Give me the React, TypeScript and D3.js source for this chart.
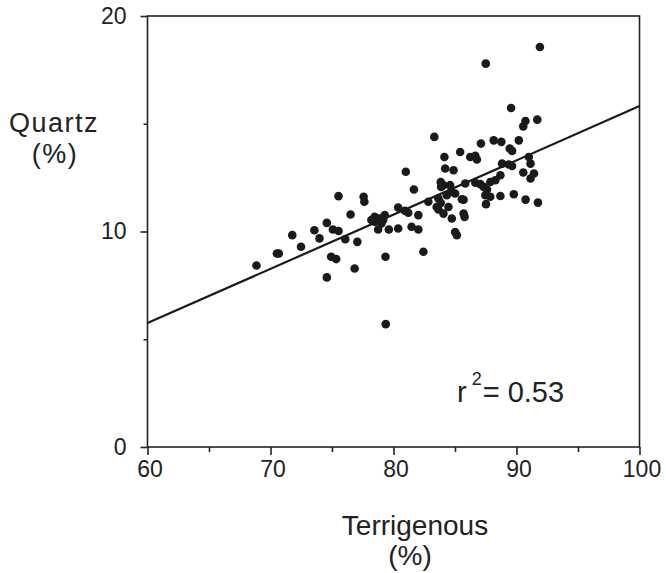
import React, { Component } from "react"
import * as d3 from "d3"

// Terrigenous (%) vs Quartz (%)
const terrigenous = [
  91.9, 87.5, 89.56, 91.69, 90.55, 90.73, 83.32, 90.19, 88.15, 88.77, 87.11, 89.45, 89.64, 85.42, 84.14,
  86.24, 86.65, 86.78, 91.0, 91.14, 88.83, 89.37, 89.64, 84.2, 84.88, 81.0, 90.55, 91.42, 91.14, 88.69,
  88.28, 87.87, 83.84, 84.06, 83.87, 85.83, 86.65, 87.06, 87.33, 87.6, 81.66, 84.6, 84.69, 85.01, 84.33,
  85.56, 85.7, 82.83, 83.65, 83.84, 75.53, 77.57, 77.63, 87.47, 87.87, 88.69, 89.78, 90.74, 91.74, 87.52,
  83.51, 83.65, 84.47, 80.38, 80.93, 81.2, 82.02, 76.51, 84.06, 84.74, 85.7, 85.78, 78.47, 78.88, 79.29,
  79.16, 78.47, 79.02, 78.2, 79.62, 78.75, 80.38, 81.47, 82.02, 74.58, 75.07, 75.53, 73.57, 73.98, 71.77,
  76.08, 85.01, 85.15, 77.06, 72.48, 70.52, 70.68, 82.43, 79.35, 74.93, 75.34, 68.86, 76.84, 74.58, 79.37,
]
const quartz = [
  18.56, 17.79, 15.73, 15.19, 14.88, 15.13, 14.39, 14.23, 14.23, 14.16, 14.08, 13.85, 13.74, 13.69, 13.46,
  13.46, 13.51, 13.34, 13.46, 13.15, 13.15, 13.11, 13.04, 12.92, 12.84, 12.77, 12.74, 12.69, 12.46, 12.61,
  12.38, 12.3, 12.3, 12.15, 12.07, 12.23, 12.26, 12.2, 12.07, 11.95, 11.95, 12.15, 11.84, 11.76, 11.68,
  11.5, 11.47, 11.38, 11.53, 11.33, 11.64, 11.61, 11.38, 11.68, 11.61, 11.65, 11.73, 11.48, 11.34, 11.27,
  11.14, 11.02, 11.14, 11.11, 10.96, 10.87, 10.76, 10.79, 10.83, 10.6, 10.83, 10.68, 10.68, 10.6, 10.76,
  10.53, 10.45, 10.37, 10.53, 10.09, 10.09, 10.14, 10.22, 10.09, 10.4, 10.09, 10.02, 10.06, 9.68, 9.83,
  9.64, 9.98, 9.83, 9.52, 9.29, 8.98, 8.98, 9.06, 8.83, 8.83, 8.72, 8.42, 8.28, 7.87, 5.7,
]

// regression line end points
const fitX = [60, 100]
const fitY = [5.75, 15.82]

const xMajor = [60, 70, 80, 90, 100]
const xMinor = [65, 75, 85, 95]
const yMajor = [0, 10, 20]
const yMinor = [5, 15]

const font = "'Liberation Sans', Arial, Helvetica, sans-serif"

class App extends Component {
  viz: SVGSVGElement | null = null

  componentDidMount() {
    const svg = d3.select(this.viz)
    svg.selectAll("*").remove()

    const x = d3.scaleLinear().domain([60, 100]).range([147.5, 639.5])
    const y = d3.scaleLinear().domain([0, 20]).range([447, 16])

    const g = svg.append("g")

    // frame
    g.append("rect")
      .attr("x", x(60))
      .attr("y", y(20))
      .attr("width", x(100) - x(60))
      .attr("height", y(0) - y(20))
      .attr("fill", "none")
      .attr("stroke", "#222")
      .attr("stroke-width", 1.6)

    const styleAxis = (sel: any) => {
      sel.select(".domain").remove()
      sel.selectAll("line").attr("stroke", "#222").attr("stroke-width", 1.6)
      sel.selectAll("text").attr("fill", "#222").style("font-family", font).style("font-size", "23px")
    }

    g.append("g")
      .attr("transform", "translate(0," + y(0) + ")")
      .call(d3.axisBottom(x).tickValues(xMajor).tickSize(8).tickPadding(6).tickFormat(d3.format("d")))
      .call(styleAxis)
      .selectAll("text")
      .attr("dx", 2)

    g.append("g")
      .attr("transform", "translate(0," + y(0) + ")")
      .call(d3.axisBottom(x).tickValues(xMinor).tickSize(5).tickFormat(() => ""))
      .call(styleAxis)

    g.append("g")
      .attr("transform", "translate(" + x(60) + ",0)")
      .call(d3.axisLeft(y).tickValues(yMajor).tickSize(7).tickPadding(14).tickFormat(d3.format("d")))
      .call(styleAxis)

    g.append("g")
      .attr("transform", "translate(" + x(60) + ",0)")
      .call(d3.axisLeft(y).tickValues(yMinor).tickSize(4).tickFormat(() => ""))
      .call(styleAxis)

    // fit line
    const line = d3
      .line<number>()
      .x((d, i) => x(fitX[i]))
      .y((d) => y(d))
    g.append("path")
      .attr("d", line(fitY))
      .attr("fill", "none")
      .attr("stroke", "#1a1a1a")
      .attr("stroke-width", 2.2)

    // points
    g.selectAll("circle.pt")
      .data(terrigenous)
      .enter()
      .append("circle")
      .attr("class", "pt")
      .attr("cx", (d) => x(d))
      .attr("cy", (d, i) => y(quartz[i]))
      .attr("r", 4.3)
      .attr("fill", "#1a1a1a")

    // r squared
    const r2 = g
      .append("text")
      .attr("x", 457)
      .attr("y", 401.5)
      .attr("fill", "#222")
      .style("font-family", font)
      .style("font-size", "29px")
    r2.append("tspan").text("r")
    r2.append("tspan").attr("dy", -17).attr("dx", 5).style("font-size", "18px").text("2")
    r2.append("tspan").attr("dy", 17).attr("dx", 1).text("= 0.53")

    // axis titles
    const yTitle = g
      .append("text")
      .attr("text-anchor", "middle")
      .attr("fill", "#222")
      .style("font-family", font)
      .style("font-size", "27px")
      .style("letter-spacing", "1.5px")
    yTitle.append("tspan").attr("x", 54).attr("y", 131.5).text("Quartz")
    yTitle.append("tspan").attr("x", 55).attr("y", 163).text("(%)")

    const xTitle = g
      .append("text")
      .attr("text-anchor", "middle")
      .attr("fill", "#222")
      .style("font-family", font)
      .style("font-size", "28px")
    xTitle.append("tspan").attr("x", 415).attr("y", 535).text("Terrigenous")
    xTitle.append("tspan").attr("x", 410).attr("y", 565).text("(%)")
  }

  render() {
    return (
      <svg
        ref={(viz) => {
          this.viz = viz
        }}
        width={666}
        height={573}
        style={{ position: "absolute", left: 0, top: 0, background: "#fff" }}
      ></svg>
    )
  }
}

export default App
